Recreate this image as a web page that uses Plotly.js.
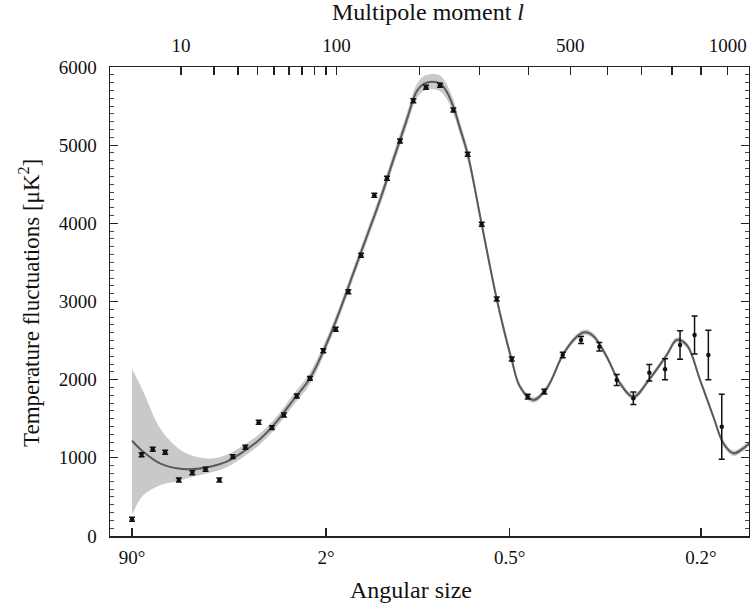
<!DOCTYPE html>
<html>
<head>
<meta charset="utf-8">
<script src="https://cdn.plot.ly/plotly-3.0.1.min.js"></script>
<style>html,body{margin:0;padding:0;background:#fff;}#chart{width:750px;height:611px;}</style>
</head>
<body>
<div id="chart"></div>
<script>
// ---- data (multipole l, D_l in microK^2) ----
const curveL = [2, 3.2, 5.66, 9.0, 12.3, 18.6, 25.1, 32.7, 41.5, 51.7, 63.2, 76.2, 90.7, 103.3, 116.9, 131.7, 147.4, 164.1, 182.1, 196.3, 206.0, 218.7, 231.8, 242.7, 253.7, 265.1, 278.7, 304.4, 333.5, 364.2, 381.8, 411.2, 442.1, 482.3, 516.3, 538.1, 560.4, 597.5, 635.8, 675.5, 727.4, 781.7, 815.3, 849.8, 897.0, 945.7, 983.4, 1021.9, 1061.3, 1088];
const curveD = [1219, 1078, 930, 866, 853, 887, 951, 1078, 1237, 1462, 1740, 2017, 2465, 2891, 3361, 3830, 4299, 4811, 5322, 5690, 5782, 5812, 5790, 5684, 5492, 5215, 4883, 3988, 3032, 2251, 1910, 1740, 1890, 2328, 2550, 2606, 2559, 2294, 1953, 1780, 2017, 2315, 2507, 2443, 1996, 1526, 1186, 1058, 1122, 1194];
const bandLo = [269, 520, 650, 700, 750, 810, 880, 1010, 1170, 1395, 1670, 1945, 2395, 2820, 3290, 3760, 4225, 4735, 5240, 5600, 5690, 5715, 5690, 5590, 5405, 5135, 4810, 3925, 2975, 2200, 1875, 1705, 1855, 2293, 2515, 2571, 2524, 2259, 1918, 1745, 1982, 2280, 2472, 2408, 1961, 1491, 1151, 1023, 1087, 1159];
const bandHi = [2136, 1850, 1380, 1140, 1040, 990, 1040, 1160, 1310, 1530, 1810, 2090, 2535, 2960, 3430, 3900, 4375, 4890, 5405, 5780, 5880, 5910, 5890, 5780, 5580, 5295, 4955, 4050, 3090, 2300, 1945, 1775, 1925, 2363, 2585, 2641, 2594, 2329, 1988, 1815, 2052, 2350, 2542, 2478, 2031, 1561, 1221, 1093, 1157, 1229];

const ptL = [2, 3, 4.5, 6.6, 9.5, 13, 17.1, 22.1, 27.7, 33.7, 40.8, 48.7, 56.6, 65.8, 76.2, 87.6, 99.1, 111.7, 125.3, 140.5, 156.0, 173.0, 191.4, 210.0, 231.8, 253.7, 278.7, 304.4, 333.5, 364.2, 398.7, 436.5, 480.8, 527.5, 576.8, 626.1, 675.5, 725.2, 776.1, 826.6, 877.3, 927.2, 977.3];
const ptD = [214, 1040, 1109, 1071, 716, 810, 853, 716, 1015, 1135, 1455, 1386, 1548, 1791, 2017, 2370, 2644, 3125, 3591, 4359, 4576, 5053, 5569, 5740, 5766, 5450, 4883, 3988, 3032, 2264, 1782, 1846, 2315, 2507, 2422, 1996, 1761, 2089, 2133, 2443, 2571, 2315, 1398];
const ptErr = [25, 25, 25, 25, 25, 25, 25, 25, 25, 25, 25, 25, 25, 25, 25, 25, 25, 25, 25, 25, 25, 25, 25, 25, 25, 25, 25, 25, 25, 25, 30, 30, 35, 45, 55, 70, 80, 105, 135, 183, 244, 316, 416];

// ---- tick labels ----
const topTickL = [10, 20, 30, 40, 50, 60, 70, 80, 90, 100, 200, 300, 400, 500, 600, 700, 800, 900, 1000];
const topLabeled = [10, 100, 500, 1000];
const angleDeg = [90, 2, 0.5, 0.2];
const angleLabels = ['90°', '2°', '0.5°', '0.2°'];
const xRangeL = [0.54, 1084];

// axis scale: horizontal position proportional to l^0.4
const P = 0.4;
const tx = l => Math.pow(l, P);

const FONT = "'Liberation Serif', 'Times New Roman', serif";

const traces = [
  {x: curveL.map(tx), y: bandLo, mode: 'lines', line: {width: 0, color: 'rgba(0,0,0,0)', shape: 'spline'}, hoverinfo: 'skip', showlegend: false},
  {x: curveL.map(tx), y: bandHi, mode: 'lines', line: {width: 0, color: 'rgba(0,0,0,0)', shape: 'spline'}, fill: 'tonexty', fillcolor: '#c9c9c9', hoverinfo: 'skip', showlegend: false},
  {x: curveL.map(tx), y: curveD, mode: 'lines', line: {width: 2, color: '#5a5a5a', shape: 'spline'}, showlegend: false},
  {x: ptL.map(tx), y: ptD, mode: 'markers', marker: {size: 4.5, color: '#111'},
   error_y: {type: 'data', array: ptErr, visible: true, color: '#111', thickness: 1.5, width: 3}, showlegend: false},
  {x: [tx(xRangeL[0])], y: [null], xaxis: 'x2', mode: 'markers', hoverinfo: 'skip', showlegend: false}
];

const layout = {
  width: 750, height: 611,
  margin: {l: 110, r: 1, t: 67, b: 75},
  paper_bgcolor: '#fff', plot_bgcolor: '#fff',
  font: {family: FONT, color: '#111'},
  xaxis: {
    range: xRangeL.map(tx), showgrid: false, zeroline: false,
    tickmode: 'array', tickvals: angleDeg.map(d => tx(180 / d)), ticktext: angleLabels,
    ticks: 'inside', ticklen: 8, tickwidth: 1.5, tickcolor: '#222',
    showline: true, linecolor: '#222', linewidth: 1.5,
    tickfont: {family: FONT, size: 19, color: '#111'}, ticklabelstandoff: 4
  },
  xaxis2: {
    overlaying: 'x', side: 'top', anchor: 'y',
    range: xRangeL.map(tx), showgrid: false, zeroline: false,
    tickmode: 'array', tickvals: topLabeled.map(tx), ticktext: topLabeled.map(String),
    ticks: 'inside', ticklen: 8, tickwidth: 1.5, tickcolor: '#222',
    minor: {tickmode: 'array', tickvals: topTickL.filter(l => !topLabeled.includes(l)).map(tx),
            ticks: 'inside', ticklen: 8, tickwidth: 1.5, tickcolor: '#222'},
    showline: true, linecolor: '#222', linewidth: 1.5,
    tickfont: {family: FONT, size: 19, color: '#111'}, ticklabelstandoff: 6
  },
  yaxis: {
    range: [0, 6000], dtick: 1000, showgrid: false, zeroline: false,
    ticks: 'inside', ticklen: 8, tickwidth: 1.2, tickcolor: '#222',
    minor: {dtick: 100, ticks: 'inside', ticklen: 4, tickwidth: 1, tickcolor: '#444'},
    showline: true, linecolor: '#222', linewidth: 1.5, mirror: 'ticks',
    tickfont: {family: FONT, size: 19, color: '#111'}, ticklabelstandoff: 8
  },
  annotations: [
    {text: 'Multipole moment <i>l</i>', xref: 'paper', yref: 'paper', x: (428 - 110) / 639, y: 1 + (67 - 12) / 469,
     xanchor: 'center', yanchor: 'middle', showarrow: false, font: {family: FONT, size: 24, color: '#111'}},
    {text: 'Angular size', xref: 'paper', yref: 'paper', x: (411 - 110) / 639, y: -(590 - 536) / 469,
     xanchor: 'center', yanchor: 'middle', showarrow: false, font: {family: FONT, size: 24, color: '#111'}},
    {text: 'Temperature fluctuations [μK<sup>2</sup>]', xref: 'paper', yref: 'paper', x: (29 - 110) / 639, y: (536 - 303) / 469,
     xanchor: 'center', yanchor: 'middle', textangle: -90, showarrow: false, font: {family: FONT, size: 23, color: '#111'}}
  ]
};

Plotly.newPlot('chart', traces, layout, {displayModeBar: false, staticPlot: true});
</script>
</body>
</html>
